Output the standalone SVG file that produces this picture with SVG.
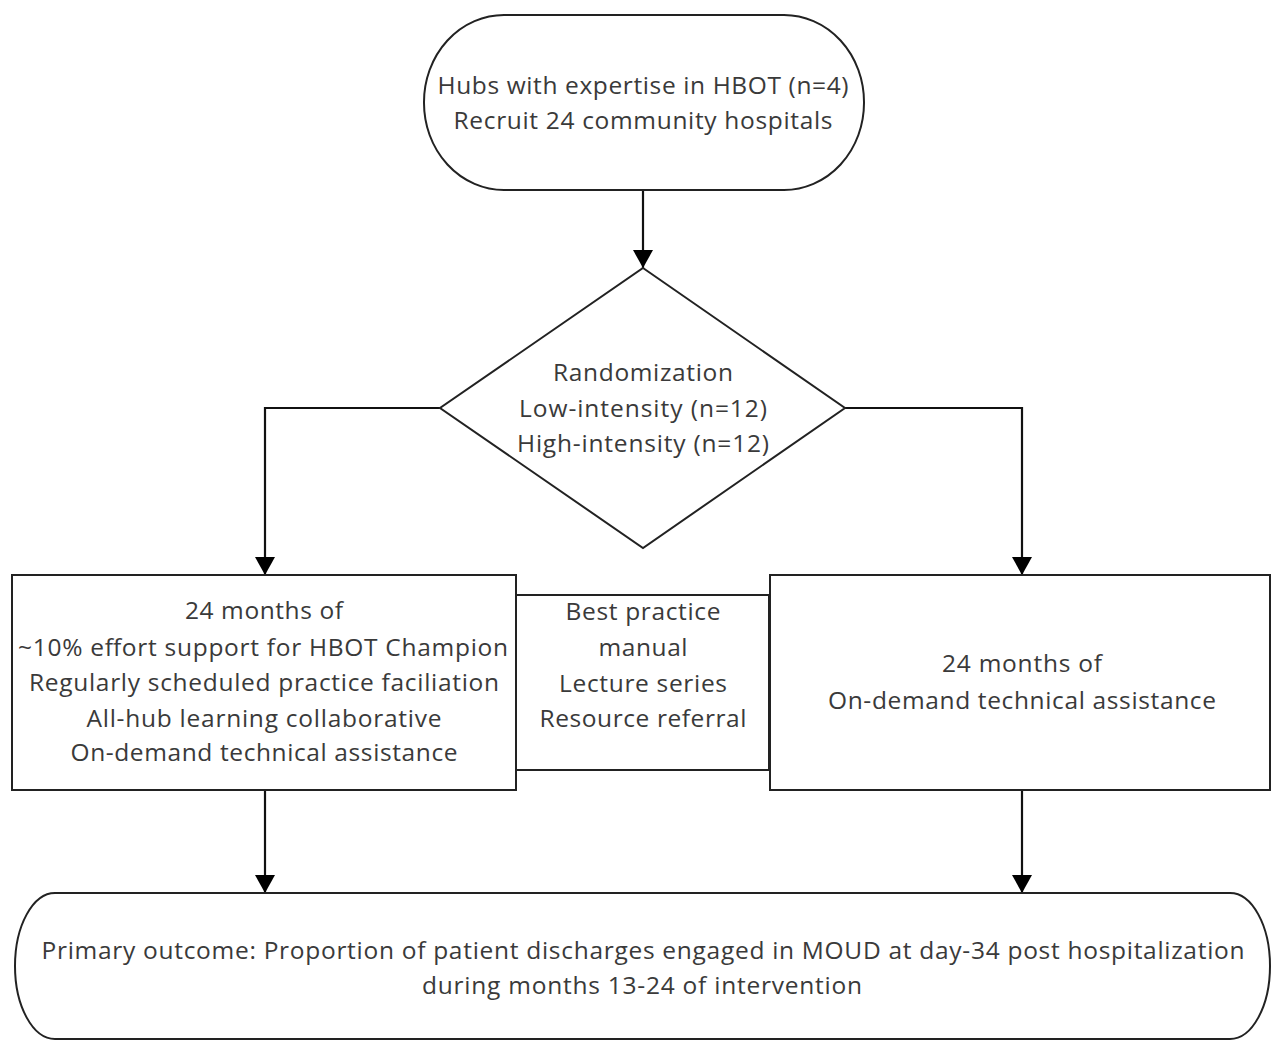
<svg xmlns="http://www.w3.org/2000/svg" width="1272" height="1041" viewBox="0 0 1272 1041">
<defs>
<marker id="arr" viewBox="0 0 18 20" refX="18" refY="10" markerWidth="18" markerHeight="20" markerUnits="userSpaceOnUse" orient="auto">
<path d="M0,0 L18,10 L0,20 z" fill="#000"/>
</marker>
<style>
.shape{fill:#fff;stroke:#222;stroke-width:2}
.lbl{font-family:"Open Sans","DejaVu Sans",sans-serif;font-size:24.5px;fill:#3a3a3a;text-anchor:middle}
.con{fill:none;stroke:#111;stroke-width:2.2}
</style>
</defs>
<rect width="1272" height="1041" fill="#fff"/>
<g id="connectors">
<line class="con" x1="643" y1="190" x2="643" y2="268" marker-end="url(#arr)"/>
<polyline class="con" points="440,408 265,408 265,575" marker-end="url(#arr)"/>
<polyline class="con" points="845,408 1022,408 1022,575" marker-end="url(#arr)"/>
<line class="con" x1="265" y1="790" x2="265" y2="893" marker-end="url(#arr)"/>
<line class="con" x1="1022" y1="790" x2="1022" y2="893" marker-end="url(#arr)"/>
</g>
<g id="start">
<rect class="shape" x="424" y="15" width="440" height="175" rx="80" ry="87"/>
<text class="lbl" x="643" y="94" textLength="411" lengthAdjust="spacing">Hubs with expertise in HBOT (n=4)</text>
<text class="lbl" x="643" y="129" textLength="379" lengthAdjust="spacing">Recruit 24 community hospitals</text>
</g>
<g id="randomization">
<polygon class="shape" points="643,268 845,408 643,548 440,408"/>
<text class="lbl" x="643" y="381" textLength="180" lengthAdjust="spacing">Randomization</text>
<text class="lbl" x="643" y="417" textLength="248" lengthAdjust="spacing">Low-intensity (n=12)</text>
<text class="lbl" x="643" y="452" textLength="252" lengthAdjust="spacing">High-intensity (n=12)</text>
</g>
<g id="high-intensity">
<rect class="shape" x="12" y="575" width="504" height="215"/>
<text class="lbl" x="264" y="619" textLength="158" lengthAdjust="spacing">24 months of</text>
<text class="lbl" x="263" y="656" textLength="490" lengthAdjust="spacing">~10% effort support for HBOT Champion</text>
<text class="lbl" x="264" y="691" textLength="470" lengthAdjust="spacing">Regularly scheduled practice faciliation</text>
<text class="lbl" x="264" y="727" textLength="355" lengthAdjust="spacing">All-hub learning collaborative</text>
<text class="lbl" x="264" y="761" textLength="387" lengthAdjust="spacing">On-demand technical assistance</text>
</g>
<g id="shared">
<rect class="shape" x="516" y="595" width="253" height="175"/>
<text class="lbl" x="643" y="620" textLength="155" lengthAdjust="spacing">Best practice</text>
<text class="lbl" x="643" y="656" textLength="89" lengthAdjust="spacing">manual</text>
<text class="lbl" x="643" y="692" textLength="168" lengthAdjust="spacing">Lecture series</text>
<text class="lbl" x="643" y="727" textLength="207" lengthAdjust="spacing">Resource referral</text>
</g>
<g id="low-intensity">
<rect class="shape" x="770" y="575" width="500" height="215"/>
<text class="lbl" x="1022" y="672" textLength="160" lengthAdjust="spacing">24 months of</text>
<text class="lbl" x="1022" y="709" textLength="388" lengthAdjust="spacing">On-demand technical assistance</text>
</g>
<g id="outcome">
<rect class="shape" x="15" y="893" width="1255" height="146" rx="40" ry="73"/>
<text class="lbl" x="643" y="959" textLength="1203" lengthAdjust="spacing">Primary outcome: Proportion of patient discharges engaged in MOUD at day-34 post hospitalization</text>
<text class="lbl" x="642" y="994" textLength="440" lengthAdjust="spacing">during months 13-24 of intervention</text>
</g>
</svg>
